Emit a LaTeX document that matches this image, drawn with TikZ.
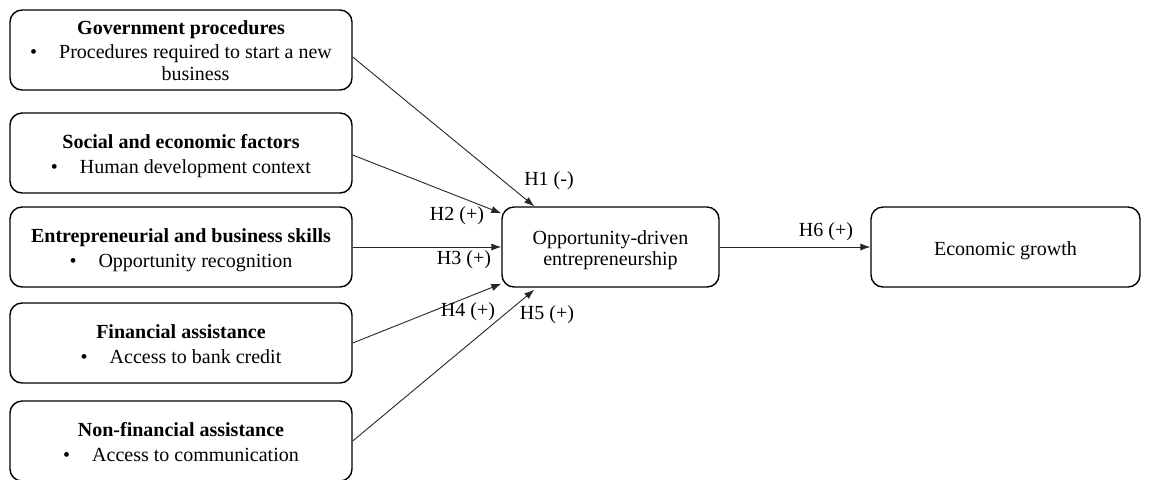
\documentclass[tikz,border=0pt]{standalone}
\usepackage{fontspec}
\setmainfont{Liberation Serif}
\usetikzlibrary{arrows.meta}

\newcommand{\hd}[1]{\rule{0pt}{11pt}\textbf{#1}}
\newcommand{\itm}[1]{\textbullet\hspace{1.1em}\begin{tabular}[t]{@{}c@{}}#1\end{tabular}}

\tikzset{
    factor/.style={draw, line width=0.7pt, rounded corners=6pt, minimum width=171pt,
        minimum height=40pt, align=center, inner sep=0pt},
    link/.style={draw=black!85, line width=0.45pt, -{Latex[length=5pt,width=3.6pt]}},
    hyp/.style={inner sep=0pt}
}

\begin{document}
\begin{tikzpicture}[x=0.5pt, y=-0.5pt, font=\fontsize{10}{10.8}\selectfont]
    \useasboundingbox (0,0) rectangle (1151,479);

    % left factors
    \node[factor] (gov) at (181,50) {\hd{Government procedures}\\[1.2pt] \itm{Procedures required to start a new\\business}};
    \node[factor] (soc) at (181,153) {\hd{Social and economic factors}\\[1.5pt] \itm{Human development context}};
    \node[factor] (ent) at (181,247) {\hd{Entrepreneurial and business skills}\\[1.5pt] \itm{Opportunity recognition}};
    \node[factor] (fin) at (181,343) {\hd{Financial assistance}\\[1.5pt] \itm{Access to bank credit}};
    \node[factor] (nfin) at (181,441) {\hd{Non-financial assistance}\\[1.5pt] \itm{Access to communication}};

    \node[factor, minimum width=108.5pt] (opp) at (610.5,247) {\rule{0pt}{10pt}Opportunity-driven\\entrepreneurship};
    \node[factor, minimum width=134.5pt] (eco) at (1005.5,247) {\rule{0pt}{11pt}Economic growth};

    % hypotheses
    \draw[link] ([yshift=-3.5pt]gov.east) -- ([xshift=16.5pt]opp.north west);
    \draw[link] ([yshift=-1pt]soc.east) -- ([yshift=-3.5pt]opp.north west);
    \draw[link] (ent.east) -- (opp.west);
    \draw[link] (fin.east) -- ([yshift=2pt]opp.south west);
    \draw[link] (nfin.east) -- ([xshift=16.5pt,yshift=-1pt]opp.south west);
    \draw[link] (opp.east) -- (eco.west);

    \node[hyp] (h1) at (549,181) {H1 (-)};
    \node[hyp] (h2) at (457,216) {H2 (+)};
    \node[hyp] (h3) at (464,260) {H3 (+)};
    \node[hyp] (h4) at (468,312) {H4 (+)};
    \node[hyp] (h5) at (547,315) {H5 (+)};
    \node[hyp] (h6) at (826,232) {H6 (+)};
\end{tikzpicture}
\end{document}
